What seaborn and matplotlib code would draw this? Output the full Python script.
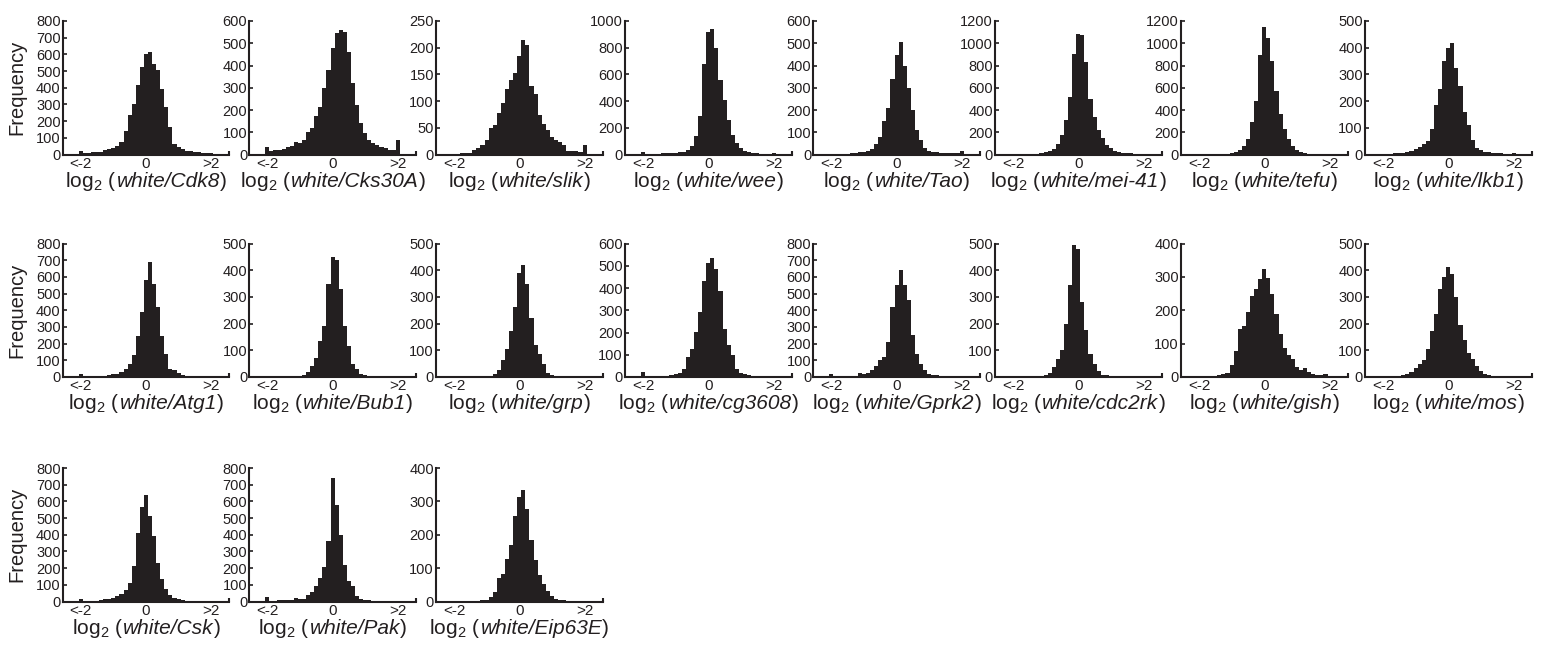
import numpy as np
import pandas as pd
import matplotlib
matplotlib.use("Agg")
import matplotlib.pyplot as plt
from matplotlib.offsetbox import TextArea, HPacker, AnchoredOffsetbox
import seaborn as sns

# ---------------- data ----------------
bin_centers = [-2.0, -1.875, -1.75, -1.625, -1.5, -1.375, -1.25, -1.125, -1.0,
               -0.875, -0.75, -0.625, -0.5, -0.375, -0.25, -0.125, 0.0,
               0.125, 0.25, 0.375, 0.5, 0.625, 0.75, 0.875, 1.0,
               1.125, 1.25, 1.375, 1.5, 1.625, 1.75, 1.875, 2.0]
bin_width = 0.125
x_tick_values = [-2, 0, 2]
x_tick_labels = ['<-2', '0', '>2']

genes = ['Cdk8', 'Cks30A', 'slik', 'wee', 'Tao', 'mei-41', 'tefu', 'lkb1',
         'Atg1', 'Bub1', 'grp', 'cg3608', 'Gprk2', 'cdc2rk', 'gish', 'mos',
         'Csk', 'Pak', 'Eip63E']

cdk8 = [20, 8, 10, 12, 14, 16, 25, 30, 38, 50, 75, 140, 235, 305, 415, 525, 600,
        615, 545, 505, 395, 285, 165, 65, 45, 30, 22, 18, 15, 12, 10, 8, 6]
cks30a = [35, 15, 18, 22, 25, 32, 40, 57, 50, 65, 100, 117, 174, 215, 297, 380, 477,
          545, 560, 550, 462, 320, 222, 140, 95, 65, 52, 42, 35, 30, 22, 18, 65]
slik = [1, 1, 2, 3, 3, 8, 12, 17, 27, 50, 55, 78, 96, 122, 140, 152, 185,
        215, 205, 128, 114, 74, 57, 45, 33, 27, 24, 17, 6, 6, 7, 5, 18]
wee = [20, 3, 3, 4, 5, 8, 10, 12, 12, 15, 22, 35, 60, 140, 290, 680, 920,
       940, 800, 560, 410, 260, 145, 83, 45, 25, 15, 10, 8, 6, 5, 5, 8]
tao = [3, 3, 3, 4, 4, 5, 8, 10, 12, 15, 25, 45, 80, 150, 207, 340, 447,
       507, 400, 297, 200, 110, 65, 27, 16, 12, 10, 8, 8, 7, 7, 8, 15]
mei41 = [4, 3, 3, 4, 5, 6, 8, 12, 20, 28, 50, 90, 175, 310, 520, 900, 1080,
         1075, 830, 500, 340, 220, 145, 85, 55, 30, 22, 15, 12, 10, 8, 7, 8]
tefu = [2, 2, 2, 2, 3, 3, 5, 8, 12, 20, 36, 80, 140, 290, 480, 890, 1150,
        1050, 840, 570, 365, 230, 140, 80, 36, 20, 12, 8, 6, 5, 4, 3, 4]
lkb1 = [3, 3, 3, 4, 4, 5, 9, 12, 21, 29, 40, 50, 94, 184, 246, 350, 400,
        419, 325, 256, 159, 112, 56, 25, 16, 10, 8, 5, 4, 4, 3, 3, 4]
atg1 = [20, 3, 3, 4, 4, 5, 8, 10, 15, 20, 30, 45, 80, 130, 245, 390, 580,
        690, 560, 420, 245, 135, 50, 40, 25, 12, 8, 5, 4, 3, 3, 3, 3]
bub1 = [2, 2, 2, 2, 2, 2, 2, 3, 5, 8, 20, 41, 73, 136, 192, 350, 450,
        440, 330, 192, 117, 48, 29, 12, 6, 4, 3, 3, 2, 2, 2, 2, 2]
grp = [1, 1, 1, 1, 1, 1, 2, 3, 4, 5, 12, 25, 65, 106, 172, 262, 390,
       419, 350, 222, 119, 87, 50, 15, 6, 4, 3, 2, 2, 1, 1, 1, 1]
cg3608 = [22, 3, 4, 4, 5, 5, 6, 8, 12, 18, 37, 90, 127, 204, 290, 432, 514,
          533, 484, 387, 216, 142, 97, 37, 18, 12, 8, 6, 5, 4, 4, 3, 3]
gprk2 = [20, 3, 3, 4, 4, 5, 8, 22, 16, 24, 40, 64, 100, 120, 210, 420, 550,
         640, 550, 460, 250, 140, 80, 40, 20, 14, 10, 6, 5, 4, 4, 3, 3]
cdc2rk = [2, 2, 2, 2, 2, 2, 3, 4, 6, 16, 37, 69, 100, 200, 346, 494, 481,
          281, 175, 87, 50, 21, 9, 6, 4, 3, 3, 2, 2, 2, 2, 2, 2]
gish = [2, 2, 2, 3, 3, 5, 9, 13, 35, 79, 144, 154, 194, 243, 265, 293, 323,
        298, 248, 189, 129, 86, 65, 53, 30, 20, 27, 15, 10, 6, 5, 10, 4]
mos = [2, 2, 3, 3, 4, 6, 10, 19, 35, 50, 62, 106, 172, 237, 331, 375, 412,
       387, 300, 194, 140, 90, 69, 41, 22, 12, 8, 5, 4, 3, 3, 2, 3]
csk = [14, 4, 4, 5, 5, 8, 12, 15, 20, 30, 45, 66, 110, 210, 410, 566, 640,
       514, 390, 230, 134, 74, 40, 20, 12, 8, 5, 4, 3, 3, 2, 2, 3]
pak = [24, 5, 5, 6, 6, 7, 8, 20, 12, 16, 40, 56, 90, 140, 204, 364, 740,
       576, 396, 220, 120, 90, 30, 15, 10, 6, 5, 4, 4, 3, 3, 3, 3]
eip63e = [1, 1, 1, 1, 1, 2, 2, 3, 5, 12, 28, 70, 83, 128, 170, 256, 313,
          333, 276, 183, 123, 80, 53, 30, 16, 8, 4, 3, 2, 1, 1, 1, 1]

counts = [cdk8, cks30a, slik, wee, tao, mei41, tefu, lkb1,
          atg1, bub1, grp, cg3608, gprk2, cdc2rk, gish, mos,
          csk, pak, eip63e]

y_max = [800, 600, 250, 1000, 600, 1200, 1200, 500,
         800, 500, 500, 600, 800, 500, 400, 500,
         800, 800, 400]
y_step = [100, 100, 50, 200, 100, 200, 200, 100,
          100, 100, 100, 100, 100, 100, 100, 100,
          100, 100, 100]

# ---------------- style ----------------
sns.set_style("ticks")
ink = '#231f20'
plt.rcParams['font.family'] = ['Liberation Sans', 'DejaVu Sans']
plt.rcParams['mathtext.fontset'] = 'custom'
plt.rcParams['mathtext.rm'] = 'Liberation Sans'
plt.rcParams['mathtext.it'] = 'Liberation Sans:italic'
plt.rcParams['mathtext.bf'] = 'Liberation Sans:bold'
plt.rcParams['mathtext.default'] = 'regular'
plt.rcParams['text.color'] = ink
plt.rcParams['axes.edgecolor'] = ink
plt.rcParams['xtick.color'] = ink
plt.rcParams['ytick.color'] = ink

W, H = 1548, 647
fig = plt.figure(figsize=(W / 100, H / 100), dpi=100)

col_left = [62.7, 249.3, 436.0, 625.0, 813.3, 995.0, 1181.0, 1365.0]
row_top = [21.0, 243.5, 468.0]
ax_w = 166.5
ax_h = 133.5
xlim = (-2.55, 2.55)
label_size = 15

edges = [float(v) for v in np.concatenate([np.array(bin_centers) - bin_width / 2,
                                           [bin_centers[-1] + bin_width / 2]])]


def add_gene_label(ax, g):
    props = dict(color=ink, fontsize=label_size)
    parts = [TextArea(r'log$_2$ (', textprops=props),
             TextArea('white/' + g, textprops=dict(props, style='italic')),
             TextArea(')', textprops=props)]
    box = HPacker(children=parts, align='baseline', pad=0, sep=0)
    anc = AnchoredOffsetbox(loc='upper center', child=box, pad=0, borderpad=0,
                            frameon=False, bbox_to_anchor=(0.5, -0.115),
                            bbox_transform=ax.transAxes)
    ax.add_artist(anc)


for i, g in enumerate(genes):
    r, c = divmod(i, 8)
    left = col_left[c] / W
    bottom = 1 - (row_top[r] + ax_h) / H
    ax = fig.add_axes([left, bottom, ax_w / W, ax_h / H])
    df = pd.DataFrame({'ratio': bin_centers, 'n': counts[i]})
    sns.histplot(data=df, x='ratio', weights='n', bins=edges, ax=ax,
                 color=ink, alpha=1, linewidth=0)
    ax.set_xlim(*xlim)
    ax.set_ylim(0, y_max[i])
    ax.set_yticks(np.arange(0, y_max[i] + 1, y_step[i]))
    ax.set_xticks(x_tick_values)
    ax.set_xticklabels(x_tick_labels)
    ax.set_xticks([xlim[1]], minor=True)
    ax.tick_params(axis='y', direction='in', length=3, width=1.2,
                   labelsize=10.5, pad=1.5)
    ax.tick_params(axis='x', which='major', length=0, labelsize=11, pad=1.5)
    ax.tick_params(axis='x', which='minor', direction='in', length=3, width=1.5)
    for s in ['top', 'right']:
        ax.spines[s].set_visible(False)
    for s in ['left', 'bottom']:
        ax.spines[s].set_linewidth(1.5)
        ax.spines[s].set_color(ink)
    ax.set_ylabel('')
    ax.set_xlabel('')
    add_gene_label(ax, g)
    if c == 0:
        yc = 1 - (row_top[r] + ax_h / 2) / H
        fig.text(17 / W, yc, 'Frequency', rotation=90, ha='center',
                 va='center', fontsize=14.5)

fig.savefig('out.png', dpi=100, facecolor='white')
